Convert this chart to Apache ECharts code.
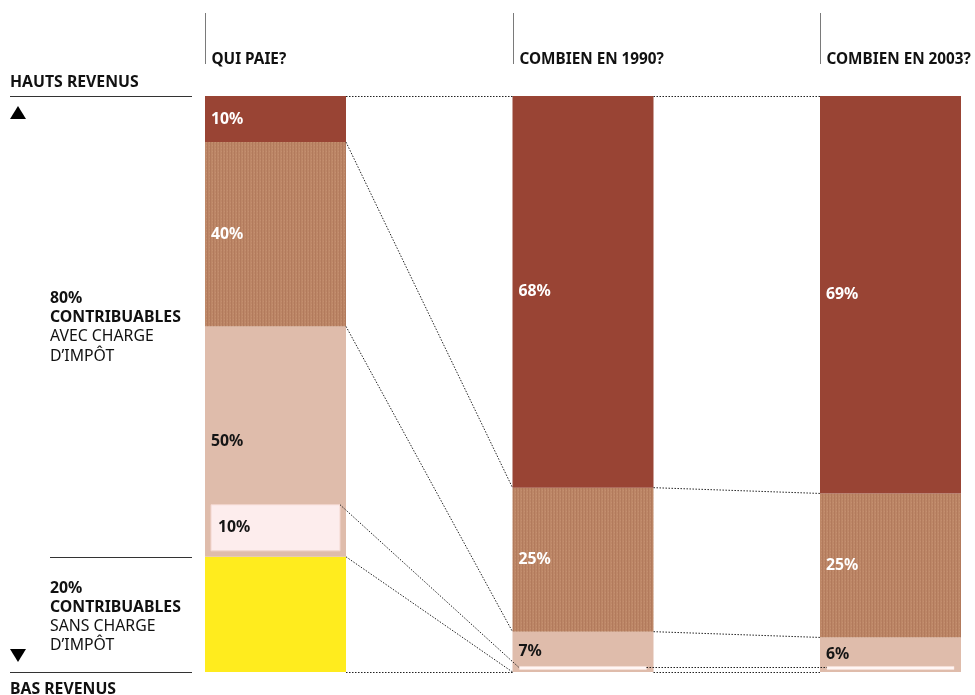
<!DOCTYPE html>
<html><head><meta charset="utf-8">
<script src="https://cdn.jsdelivr.net/npm/echarts@6/dist/echarts.min.js"></script>
<style>html,body{margin:0;padding:0;background:#fff}#c{width:975px;height:695px}</style>
</head><body><div id="c"></div>
<script>
// ---------------- DATA ----------------
const columnTitles = ['QUI PAIE?', 'COMBIEN EN 1990?', 'COMBIEN EN 2003?'];
const taxpayerShare = 80;          // % of contributors with tax charge
const nonTaxpayerShare = 20;       // % of contributors without tax charge
const payerGroupShares = [50, 40, 10];   // within taxpayers, bottom -> top (%)
const lowestPayerGroupShare = 10;        // lowest 10% of taxpayers (inner box)
const share1990 = [7, 25, 68];           // share of tax paid, bottom -> top (%)
const share2003 = [6, 25, 69];
const lowestShare1990 = 0.7;             // share paid by the lowest 10% (white line)
const lowestShare2003 = 0.7;
const segmentKinds = ['low', 'mid', 'high'];

// ---------------- STYLE ----------------
const HALF = 70.5;
const FONT = '"Noto Sans", "DejaVu Sans", sans-serif';
const FS = '15.8px ';
const FS_HEAD = '15.3px ';
const pc = document.createElement('canvas'); pc.width = 3; pc.height = 3;
const g = pc.getContext('2d');
g.fillStyle = '#bd8767'; g.fillRect(0, 0, 3, 3);
g.fillStyle = '#b27a5c'; g.fillRect(0, 0, 1, 3);
g.fillStyle = '#c48f70'; g.fillRect(2, 1, 1, 1);
const fills = { none: '#ffec1e', low: '#dfbcab', mid: { image: pc, repeat: 'repeat' }, high: '#994434' };
const labelColors = { none: null, low: '#151515', mid: '#ffffff', high: '#ffffff' };

// ---------------- BUILD SEGMENTS ----------------
const segments = [];
segments.push({ col: 0, start: 0, end: nonTaxpayerShare, kind: 'none', label: '' });
let acc = nonTaxpayerShare;
payerGroupShares.forEach((s, i) => {
  const v = s * taxpayerShare / 100;
  segments.push({ col: 0, start: acc, end: acc + v, kind: segmentKinds[i], label: s + '%' });
  acc += v;
});
[share1990, share2003].forEach((arr, ci) => {
  let a = 0;
  arr.forEach((s, i) => {
    segments.push({ col: ci + 1, start: a, end: a + s, kind: segmentKinds[i], label: s + '%' });
    a += s;
  });
});
const boxStart = nonTaxpayerShare;
const boxEnd = nonTaxpayerShare + lowestPayerGroupShare * taxpayerShare / 100;
const highlights = [
  { type: 'box', col: 0, start: boxStart, end: boxEnd, label: lowestPayerGroupShare + '%' },
  { type: 'line', col: 1, value: lowestShare1990 },
  { type: 'line', col: 2, value: lowestShare2003 }
];
const c0 = segments.filter(s => s.col === 0);
const c1 = segments.filter(s => s.col === 1);
const c2 = segments.filter(s => s.col === 2);
const connectors = [
  { a: [0, 100], b: [1, 100] },
  { a: [0, c0[3].start], b: [1, c1[2].start] },
  { a: [0, c0[2].start], b: [1, c1[1].start] },
  { a: [0, boxEnd, 'box'], b: [1, lowestShare1990, 'line'] },
  { a: [0, nonTaxpayerShare], b: [1, 0] },
  { a: [0, 0], b: [1, 0] },
  { a: [1, 100], b: [2, 100] },
  { a: [1, c1[2].start], b: [2, c2[2].start] },
  { a: [1, c1[1].start], b: [2, c2[1].start] },
  { a: [1, lowestShare1990, 'line'], b: [2, lowestShare2003, 'line'] },
  { a: [1, 0], b: [2, 0] }
];
const BOX_IN = 6, LINE_IN = 7;

const chart = echarts.init(document.getElementById('c'));
chart.setOption({
  animation: false,
  grid: { left: 275.5, right: 84.5, top: 96, bottom: 23 },
  xAxis: { type: 'value', min: 0, max: 2, show: false },
  yAxis: { type: 'value', min: 0, max: 100, show: false },
  series: [
    {
      type: 'custom', data: segments.map(s => [s.col, s.start, s.end]),
      renderItem(params, api) {
        const s = segments[params.dataIndex];
        const t = api.coord([s.col, s.end]), b = api.coord([s.col, s.start]);
        const x = t[0] - HALF;
        const ch = [{ type: 'rect', shape: { x: x, y: t[1], width: HALF * 2, height: b[1] - t[1] },
          style: { fill: fills[s.kind] } }];
        if (s.label) ch.push({ type: 'text', z2: 10, style: { text: s.label, x: x + 6, y: (t[1] + b[1]) / 2,
          verticalAlign: 'middle', fill: labelColors[s.kind], font: 'bold ' + FS + FONT } });
        return { type: 'group', children: ch };
      }
    },
    {
      type: 'custom', z: 3, data: highlights.map(h => [h.col, h.value || h.start]),
      renderItem(params, api) {
        const h = highlights[params.dataIndex];
        if (h.type === 'box') {
          const t = api.coord([h.col, h.end]), b = api.coord([h.col, h.start]);
          const x = t[0] - HALF + BOX_IN;
          return { type: 'group', children: [
            { type: 'rect', shape: { x: x, y: t[1] - BOX_IN, width: HALF * 2 - 2 * BOX_IN, height: b[1] - t[1] },
              style: { fill: '#fdeded', stroke: '#f3d6cf', lineWidth: 1 } },
            { type: 'text', style: { text: h.label, x: x + 7, y: (t[1] + b[1]) / 2 - BOX_IN,
              verticalAlign: 'middle', fill: '#151515', font: 'bold ' + FS + FONT } }
          ] };
        }
        const p = api.coord([h.col, h.value]);
        return { type: 'rect', shape: { x: p[0] - HALF + LINE_IN, y: p[1] - 1.5, width: HALF * 2 - 2 * LINE_IN, height: 3 },
          style: { fill: '#fff6f4', stroke: '#f8e2dc', lineWidth: 0.5 } };
      }
    },
    {
      type: 'custom', z: 4, data: connectors.map(c => [c.a[0], c.a[1], c.b[0], c.b[1]]),
      renderItem(params, api) {
        const c = connectors[params.dataIndex];
        const pa = api.coord([c.a[0], c.a[1]]), pb = api.coord([c.b[0], c.b[1]]);
        let x1 = pa[0] + HALF, y1 = pa[1], x2 = pb[0] - HALF, y2 = pb[1];
        if (c.a[2] === 'box') { x1 -= BOX_IN; y1 -= BOX_IN; }
        if (c.a[2] === 'line') { x1 -= LINE_IN; }
        if (c.b[2] === 'line') { x2 += LINE_IN; }
        if (Math.abs(y1 - y2) < 0.5) { y1 = y2 = Math.floor(y1) + 0.5; }
        return { type: 'line', shape: { x1, y1, x2, y2 },
          style: { stroke: '#222', lineWidth: 1, lineDash: [1.5, 1.5] } };
      }
    }
  ]
});

// ---------------- ANNOTATIONS ----------------
const yTop = chart.convertToPixel({ gridIndex: 0 }, [0, 100])[1];
const ySplit = chart.convertToPixel({ gridIndex: 0 }, [0, nonTaxpayerShare])[1];
const yBot = chart.convertToPixel({ gridIndex: 0 }, [0, 0])[1];
const graphic = [];
columnTitles.forEach((t, i) => {
  const xl = Math.round(chart.convertToPixel({ gridIndex: 0 }, [i, 0])[0] - HALF) + 0.5;
  graphic.push({ type: 'line', shape: { x1: xl, y1: 13, x2: xl, y2: 64 }, style: { stroke: '#7a7a7a', lineWidth: 1 } });
  graphic.push({ type: 'text', style: { text: t, x: xl + 6, y: 60, verticalAlign: 'middle', fill: '#111', font: 'bold ' + FS_HEAD + FONT } });
});
const txt = (s, x, y, bold) => ({ type: 'text', style: { text: s, x, y, verticalAlign: 'middle', fill: '#111',
  font: (bold ? 'bold ' : '') + FS + FONT } });
graphic.push(
  txt('HAUTS REVENUS', 10, 82, true),
  { type: 'line', shape: { x1: 10, y1: Math.round(yTop) + 0.5, x2: 192, y2: Math.round(yTop) + 0.5 }, style: { stroke: '#333', lineWidth: 1 } },
  { type: 'polygon', shape: { points: [[10, 119], [26, 119], [18, 106]] }, style: { fill: '#000' } },
  txt(taxpayerShare + '%', 50, 298, true),
  txt('CONTRIBUABLES', 50, 317, true),
  txt('AVEC CHARGE', 50, 336, false),
  txt('D\u2019IMPÔT', 50, 356, false),
  { type: 'line', shape: { x1: 50, y1: Math.round(ySplit) + 0.5, x2: 192, y2: Math.round(ySplit) + 0.5 }, style: { stroke: '#333', lineWidth: 1 } },
  txt(nonTaxpayerShare + '%', 50, 588, true),
  txt('CONTRIBUABLES', 50, 607, true),
  txt('SANS CHARGE', 50, 626, false),
  txt('D\u2019IMPÔT', 50, 645, false),
  { type: 'polygon', shape: { points: [[10, 649], [26, 649], [18, 662]] }, style: { fill: '#000' } },
  { type: 'line', shape: { x1: 10, y1: Math.round(yBot) + 0.5, x2: 192, y2: Math.round(yBot) + 0.5 }, style: { stroke: '#333', lineWidth: 1 } },
  txt('BAS REVENUS', 10, 689, true)
);
chart.setOption({ graphic });
</script></body></html>
